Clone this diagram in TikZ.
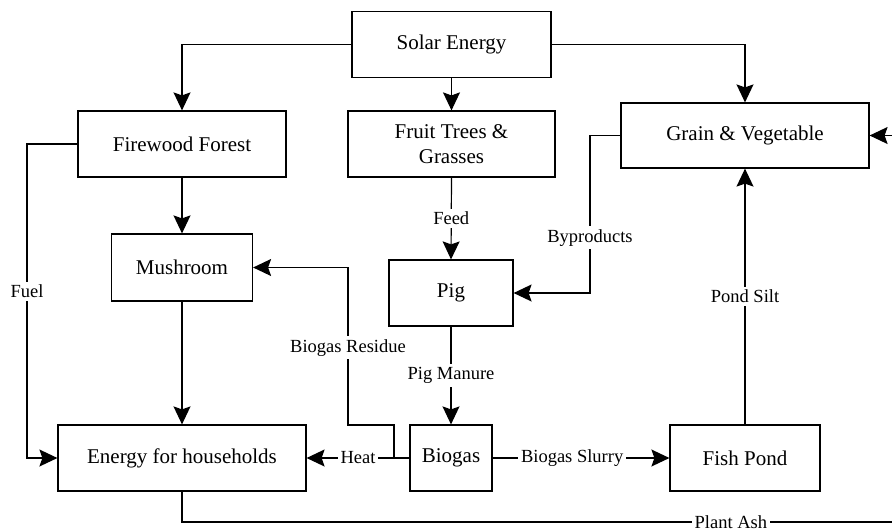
\documentclass[tikz,border=0pt]{standalone}
\usepackage{fontspec}
\setmainfont{Liberation Serif}
\newfontfamily\timesfont{Liberation Serif}
\usetikzlibrary{arrows.meta}

\begin{document}
\begin{tikzpicture}[x=1pt, y=-1pt, line width=1.2pt,
        >={Stealth[length=18pt, width=17pt, inset=3pt]}]
            \useasboundingbox (0,0) rectangle (892,531);
            \begin{scope}[every node/.style={rectangle, draw, inner sep=2pt, minimum height=66pt,
                                             align=center, font=\timesfont\fontsize{21}{25}\selectfont}]
                \node (Solar) [minimum width=199pt] at (451.5, 44.5) {Solar Energy};
                \node (Fire) [minimum width=208pt] at (182, 144) {Firewood Forest};
                \node (Fruit) [minimum width=207pt] at (451.5, 144) {Fruit Trees \&\\Grasses};
                \node (Grain) [minimum width=248pt, minimum height=65pt] at (745, 135.5) {Grain \& Vegetable};
                \node (Mush) [minimum width=141pt, minimum height=67pt] at (182, 267.5) {Mushroom};
                \node (Pig) [minimum width=124pt] at (451, 293) {Pig};
                \node (Energy) [minimum width=248pt] at (182, 458) {Energy for households};
                \node (Biogas) [minimum width=82pt] at (451, 458) {Biogas};
                \node (Fish) [minimum width=150pt] at (745, 458) {Fish Pond};
            \end{scope}

            \coordinate (resj) at (394, 458);
            \coordinate (ashR) at (893, 522);

            \begin{scope}[every node/.style={fill=white, inner sep=3pt,
                                             font=\timesfont\fontsize{18.5}{22}\selectfont}]
                \draw [->] (Solar.west) -| (Fire.north);
                \draw [->] (Solar.south) -- (Fruit.north);
                \draw [->] (Solar.east) -| (Grain.north);
                \draw [->] (Fire.south) -- (Mush.north);
                \draw [->] (Mush.south) -- (Energy.north);
                \draw [->] (Fire.west) -- (27, 144) -- node[pos=0.47] {Fuel} (27, 458) -- (Energy.west);
                \draw [->] (Fruit.south) -- node {Feed} (Pig.north);
                \draw [->] (Grain.west) -- (590, 135.5) -- node[pos=0.65] {Byproducts} (590, 293) -- (Pig.east);
                \draw [->] (Pig.south) -- node {Pig Manure} (Biogas.north);
                \draw [->] (Biogas.west) -- node {Heat} (Energy.east);
                \draw [->] (resj) |- (348, 425) -- node[pos=0.49] {Biogas Residue} (348, 267.5) -- (Mush.east);
                \draw [->] (Biogas.east) -- node[pos=0.45] {Biogas Slurry} (Fish.west);
                \draw [->] (Fish.north) -- node {Pond Silt} (Grain.south);
                \draw [->] (Energy.south) -- (182, 522) -- node[pos=0.772] {Plant Ash} (ashR) |- (Grain.east);
            \end{scope}
        \end{tikzpicture}
\end{document}
